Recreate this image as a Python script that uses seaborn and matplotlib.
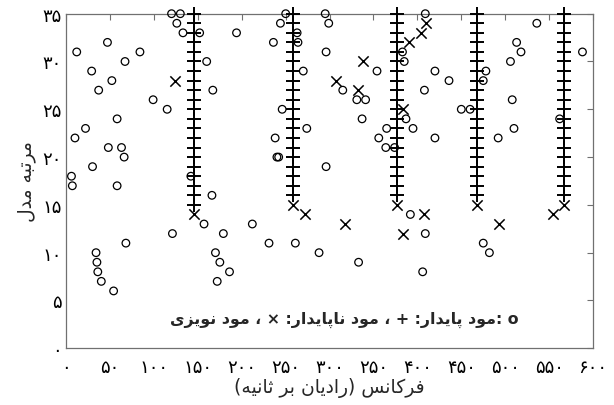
import matplotlib
matplotlib.use("Agg")
import matplotlib.pyplot as plt
import seaborn as sns

# noise modes (circles)
noise_x = [120, 130, 126, 133, 152, 194, 47, 12, 84, 67, 160, 29, 52, 37, 167, 99, 115, 58,
           22, 10, 48, 63, 66, 30, 6, 142, 7, 58,
           166, 157, 121, 179, 68, 34, 170, 35, 175, 36, 186, 40, 172, 54,
           250, 244, 263, 264, 236, 295, 299, 296, 270, 315, 331, 341, 354, 337, 246, 274,
           238, 240, 242, 296, 365, 356, 364, 374, 383, 385, 387, 395,
           212, 231, 261, 288, 333, 392, 409, 406,
           409, 536, 513, 518, 506, 588, 420, 436, 408, 478, 475, 508, 450, 460, 562, 420,
           510, 492, 475, 482]
noise_y = [35, 35, 34, 33, 33, 33, 32, 31, 31, 30, 30, 29, 28, 27, 27, 26, 25, 24,
           23, 22, 21, 21, 20, 19, 18, 18, 17, 17,
           16, 13, 12, 12, 11, 10, 10, 9, 9, 8, 8, 7, 7, 6,
           35, 34, 33, 32, 32, 35, 34, 31, 29, 27, 26, 26, 29, 24, 25, 23,
           22, 20, 20, 19, 23, 22, 21, 21, 31, 30, 24, 23,
           13, 11, 11, 10, 9, 14, 12, 8,
           35, 34, 32, 31, 30, 31, 29, 28, 27, 29, 28, 26, 25, 25, 24, 22,
           23, 22, 11, 10]

# unstable modes (x)
unstable_x = [146, 258, 377, 468, 567, 124, 272, 338, 307, 332, 317, 384, 390, 404, 410,
              384, 408, 493, 554]
unstable_y = [14, 15, 15, 15, 15, 28, 14, 30, 28, 27, 13, 25, 32, 33, 34,
              12, 14, 13, 14]

# stable modes (+): frequency of each column and lowest model order reached
stable_freq = [146, 258, 377, 468, 567]
stable_lowest = [15, 16, 16, 16, 16]
model_orders = [15, 16, 17, 18, 19, 20, 21, 22, 23, 24, 25, 26, 27, 28, 29, 30,
                31, 32, 33, 34, 35]

x_ticks = [0, 50, 100, 150, 200, 250, 300, 350, 400, 450, 500, 550, 600]
x_tick_labels = ['۰', '۵۰', '۱۰۰', '۱۵۰', '۲۰۰', '۲۵۰', '۳۰۰', '۲۵۰', '۴۰۰',
                 '۴۵۰', '۵۰۰', '۵۵۰', '۶۰۰']
y_ticks = [0, 5, 10, 15, 20, 25, 30, 35]
y_tick_labels = ['۰', '۵', '۱۰', '۱۵', '۲۰', '۲۵', '۳۰', '۳۵']

# matplotlib has no arabic shaping, so map letters to presentation forms by hand
# (isolated, final, initial, medial)
FORMS = {
    'ا': '\uFE8D\uFE8E', 'د': '\uFEA9\uFEAA', 'ر': '\uFEAD\uFEAE',
    'ز': '\uFEAF\uFEB0', 'و': '\uFEED\uFEEE',
    'ب': '\uFE8F\uFE90\uFE91\uFE92', 'پ': '\uFB56\uFB57\uFB58\uFB59',
    'ت': '\uFE95\uFE96\uFE97\uFE98', 'ث': '\uFE99\uFE9A\uFE9B\uFE9C',
    'س': '\uFEB1\uFEB2\uFEB3\uFEB4', 'ف': '\uFED1\uFED2\uFED3\uFED4',
    'ک': '\uFB8E\uFB8F\uFB90\uFB91', 'ل': '\uFEDD\uFEDE\uFEDF\uFEE0',
    'م': '\uFEE1\uFEE2\uFEE3\uFEE4', 'ن': '\uFEE5\uFEE6\uFEE7\uFEE8',
    'ه': '\uFEE9\uFEEA\uFEEB\uFEEC', 'ی': '\uFBFC\uFBFD\uFBFE\uFBFF',
}


def rtl(text):
    out = []
    for i, ch in enumerate(text):
        if ch not in FORMS:
            out.append(ch)
            continue
        prev = text[i - 1] if i > 0 else ''
        nxt = text[i + 1] if i + 1 < len(text) else ''
        j_prev = prev in FORMS and len(FORMS[prev]) == 4
        j_next = len(FORMS[ch]) == 4 and nxt in FORMS
        f = FORMS[ch]
        if j_prev and j_next:
            out.append(f[3])
        elif j_prev:
            out.append(f[1])
        elif j_next:
            out.append(f[2])
        else:
            out.append(f[0])
    mirror = {'(': ')', ')': '('}
    return ''.join(mirror.get(c, c) for c in reversed(out))


sns.set_style("white")
plt.rcParams['font.family'] = ['DejaVu Sans']

fig = plt.figure(figsize=(6.14, 4.06), dpi=100)
ax = fig.add_axes([0.1078, 0.1397, 0.8580, 0.8241])

sns.scatterplot(x=noise_x, y=noise_y, marker='o', s=30, color='black',
                facecolor='none', edgecolor='black', linewidth=0.9,
                clip_on=False, zorder=3, ax=ax)
sns.scatterplot(x=unstable_x, y=unstable_y, marker='x', s=55, color='black',
                linewidth=1.1, clip_on=False, zorder=3, ax=ax)

st_x, st_y = [], []
for f, low in zip(stable_freq, stable_lowest):
    for o in model_orders:
        if o >= low:
            st_x.append(f)
            st_y.append(o)
sns.scatterplot(x=st_x, y=st_y, marker='+', s=110, color='black',
                linewidth=1.4, clip_on=False, zorder=3, ax=ax)

ax.set_xlim(0, 600)
ax.set_ylim(0, 35)
ax.set_xticks(x_ticks)
ax.set_xticklabels(x_tick_labels, fontsize=13)
ax.set_yticks(y_ticks)
ax.set_yticklabels(y_tick_labels, fontsize=13)
ax.tick_params(direction='in', top=True, right=True, length=4, width=0.8,
               color='#707070', labelcolor='black')
ax.tick_params(axis='x', pad=7)
ax.tick_params(axis='y', pad=3)
for sp in ax.spines.values():
    sp.set_color('#707070')
    sp.set_linewidth(0.9)

ax.set_xlabel(rtl('فرکانس (رادیان بر ثانیه)'), fontsize=13.5, labelpad=1)
ax.set_ylabel(rtl('مرتبه مدل'), fontsize=13.5, labelpad=5)

ax.text(0.527, 0.088, rtl('o :مود پایدار: + ، مود ناپایدار: × ، مود نویزی'),
        transform=ax.transAxes, ha='center', va='center', fontsize=11.4,
        fontweight='bold')

fig.savefig('out.png', dpi=100)
